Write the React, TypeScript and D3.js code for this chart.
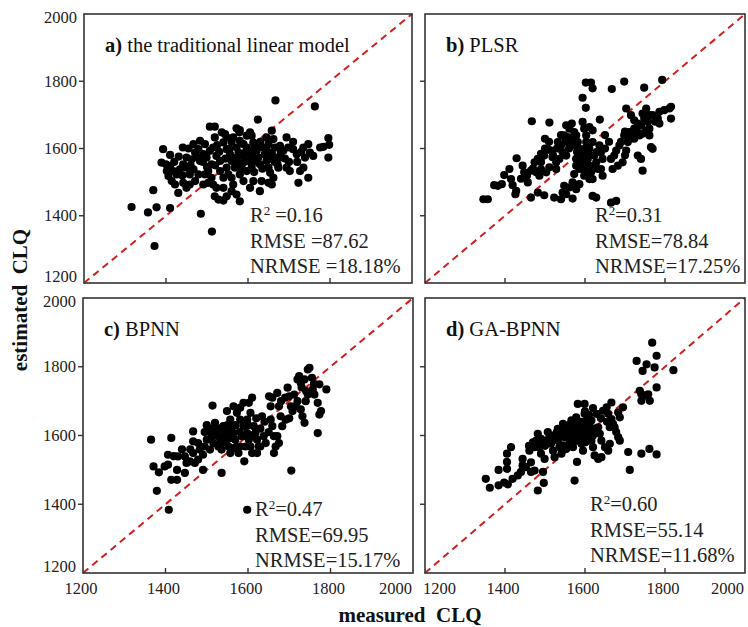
import React from "react";
import * as d3 from "d3";

const ticks = [1200, 1400, 1600, 1800, 2000];
const domain: [number, number] = [1200, 2000];

const titlesLetter = ["a)", "b)", "c)", "d)"];
const titlesText = ["the traditional linear model", "PLSR", "BPNN", "GA-BPNN"];
const statR2 = ["=0.16", "=0.31", "=0.47", "=0.60"];
const statR2Sep = [" ", "", "", ""];
const statRMSE = ["RMSE =87.62", "RMSE=78.84", "RMSE=69.95", "RMSE=55.14"];
const statNRMSE = ["NRMSE =18.18%", "NRMSE=17.25%", "NRMSE=15.17%", "NRMSE=11.68%"];

const ptsA: [number, number][] = [[1316,1426],[1356,1410],[1377,1425],[1369,1476],[1372,1310],[1410,1423],[1485,1406],[1512,1353],[1667,1743],[1763,1725],[1624,1686],[1507,1665],[1519,1665],[1572,1660],[1580,1655],[1393,1598],[1410,1581],[1389,1558],[1400,1553],[1441,1603],[1431,1576],[1796,1631],[1798,1611],[1796,1573],[1776,1603],[1784,1605],[1759,1578],[1747,1613],[1751,1588],[1723,1498],[1747,1513],[1727,1533],[1735,1543],[1702,1533],[1694,1543],[1674,1543],[1678,1573],[1694,1633],[1698,1603],[1658,1653],[1662,1628],[1678,1608],[1686,1593],[1710,1598],[1719,1583],[1735,1603],[1739,1573],[1650,1498],[1658,1493],[1662,1513],[1629,1473],[1633,1503],[1605,1483],[1613,1503],[1580,1443],[1572,1463],[1560,1473],[1564,1493],[1540,1483],[1548,1458],[1519,1458],[1528,1448],[1540,1445],[1515,1493],[1523,1483],[1491,1493],[1503,1498],[1471,1503],[1479,1523],[1467,1538],[1450,1483],[1458,1493],[1442,1498],[1430,1468],[1422,1493],[1426,1523],[1402,1533],[1410,1548],[1418,1533],[1434,1538],[1442,1553],[1450,1573],[1463,1568],[1471,1588],[1467,1613],[1479,1598],[1491,1583],[1483,1563],[1499,1573],[1507,1593],[1511,1553],[1515,1603],[1523,1578],[1532,1563],[1519,1633],[1540,1618],[1548,1598],[1556,1583],[1560,1563],[1568,1543],[1564,1633],[1572,1603],[1577,1588],[1580,1623],[1589,1613],[1593,1573],[1597,1603],[1601,1583],[1605,1563],[1609,1543],[1609,1638],[1613,1618],[1621,1593],[1625,1573],[1629,1553],[1637,1603],[1641,1583],[1645,1563],[1650,1543],[1654,1528],[1658,1588],[1666,1603],[1670,1573],[1672,1553],[1483,1623],[1495,1613],[1548,1633],[1544,1643],[1536,1648],[1579,1648],[1597,1638],[1605,1648],[1645,1633],[1650,1613],[1548,1543],[1552,1523],[1560,1513],[1580,1523],[1589,1503],[1597,1533],[1495,1523],[1503,1533],[1511,1513],[1532,1533],[1540,1513],[1458,1523],[1450,1543],[1414,1503],[1406,1518],[1572,1573],[1585,1578],[1597,1563],[1613,1573],[1621,1563],[1605,1588],[1589,1558],[1609,1553],[1490,1560],[1500,1545],[1520,1550],[1530,1590],[1545,1570],[1555,1600],[1575,1555],[1585,1540],[1595,1590],[1615,1530],[1625,1610],[1635,1540],[1645,1595],[1655,1570],[1665,1560],[1680,1590],[1690,1570],[1700,1560],[1710,1620],[1720,1560],[1730,1590],[1460,1550],[1475,1575],[1440,1520],[1420,1560],[1455,1600],[1525,1610],[1560,1620],[1615,1600],[1630,1620]];

const ptsB: [number, number][] = [[1346,1449],[1357,1449],[1602,1796],[1615,1796],[1619,1779],[1698,1799],[1667,1777],[1748,1781],[1793,1804],[1594,1751],[1602,1721],[1467,1681],[1511,1677],[1637,1686],[1500,1629],[1429,1571],[1411,1539],[1398,1521],[1392,1494],[1382,1489],[1373,1491],[1415,1509],[1419,1491],[1428,1474],[1426,1464],[1444,1549],[1448,1529],[1457,1499],[1465,1534],[1478,1529],[1474,1559],[1482,1569],[1490,1584],[1498,1579],[1507,1599],[1515,1594],[1519,1574],[1528,1559],[1532,1619],[1540,1609],[1544,1589],[1553,1579],[1548,1639],[1557,1634],[1561,1619],[1569,1629],[1553,1669],[1561,1659],[1567,1674],[1573,1649],[1578,1639],[1582,1619],[1586,1599],[1594,1679],[1598,1659],[1603,1639],[1611,1664],[1619,1654],[1586,1579],[1590,1559],[1594,1539],[1598,1519],[1603,1589],[1607,1569],[1611,1549],[1615,1529],[1619,1509],[1623,1579],[1628,1559],[1632,1539],[1636,1609],[1640,1589],[1644,1569],[1578,1549],[1573,1524],[1569,1499],[1578,1479],[1586,1494],[1548,1489],[1561,1484],[1553,1464],[1523,1454],[1540,1449],[1544,1469],[1569,1451],[1498,1461],[1482,1469],[1465,1454],[1619,1459],[1628,1454],[1665,1439],[1678,1444],[1665,1569],[1673,1579],[1678,1594],[1686,1609],[1669,1539],[1682,1549],[1694,1559],[1703,1594],[1707,1619],[1713,1629],[1698,1639],[1711,1649],[1719,1644],[1723,1659],[1732,1674],[1740,1669],[1748,1689],[1723,1629],[1736,1639],[1744,1644],[1753,1654],[1757,1679],[1761,1659],[1769,1699],[1782,1689],[1786,1674],[1786,1709],[1798,1714],[1811,1719],[1815,1724],[1815,1689],[1753,1719],[1744,1704],[1703,1719],[1715,1699],[1723,1684],[1761,1639],[1765,1604],[1769,1599],[1732,1579],[1740,1569],[1744,1534],[1640,1539],[1644,1519],[1611,1509],[1490,1539],[1503,1529],[1511,1544],[1486,1519],[1536,1569],[1528,1539],[1586,1539],[1578,1569],[1603,1619],[1611,1599],[1619,1619],[1560,1600],[1570,1610],[1580,1590],[1590,1580],[1600,1600],[1610,1580],[1595,1560],[1605,1540],[1620,1540],[1630,1590],[1550,1620],[1540,1640],[1530,1600],[1520,1580],[1510,1620],[1500,1600],[1490,1560],[1470,1540],[1455,1520],[1440,1510],[1650,1600],[1690,1620],[1700,1650],[1730,1650],[1760,1700],[1775,1680],[1700,1580],[1660,1620],[1650,1640]];

const ptsC: [number, number][] = [[1365,1588],[1371,1510],[1379,1439],[1384,1493],[1398,1510],[1406,1515],[1406,1544],[1414,1593],[1408,1384],[1414,1471],[1428,1471],[1428,1500],[1430,1539],[1447,1491],[1451,1520],[1447,1539],[1459,1525],[1467,1549],[1471,1520],[1479,1530],[1483,1559],[1491,1544],[1467,1583],[1479,1578],[1467,1612],[1491,1500],[1514,1687],[1500,1588],[1495,1568],[1503,1612],[1512,1598],[1516,1578],[1520,1637],[1524,1617],[1528,1598],[1532,1578],[1536,1491],[1540,1627],[1545,1607],[1549,1588],[1553,1568],[1549,1671],[1557,1646],[1561,1627],[1565,1685],[1573,1666],[1581,1681],[1589,1695],[1565,1607],[1569,1588],[1573,1568],[1577,1549],[1581,1646],[1589,1627],[1598,1646],[1606,1666],[1598,1607],[1602,1588],[1606,1568],[1610,1549],[1591,1525],[1610,1710],[1602,1695],[1614,1627],[1618,1607],[1622,1588],[1626,1568],[1622,1549],[1630,1568],[1634,1656],[1638,1598],[1643,1578],[1655,1685],[1651,1714],[1659,1710],[1671,1724],[1655,1646],[1659,1627],[1663,1598],[1667,1568],[1663,1549],[1675,1685],[1679,1656],[1683,1627],[1691,1646],[1671,1598],[1675,1578],[1696,1739],[1700,1714],[1704,1685],[1708,1671],[1705,1498],[1712,1719],[1720,1763],[1724,1773],[1728,1753],[1716,1685],[1728,1676],[1732,1656],[1741,1729],[1745,1719],[1753,1724],[1757,1734],[1761,1719],[1737,1763],[1745,1792],[1749,1797],[1755,1768],[1737,1637],[1769,1695],[1773,1661],[1777,1671],[1769,1607],[1773,1749],[1790,1734],[1557,1549],[1565,1563],[1536,1559],[1528,1568],[1508,1559],[1598,1384],[1585,1598],[1594,1568],[1581,1568],[1557,1593],[1549,1612],[1520,1600],[1530,1620],[1540,1600],[1550,1630],[1560,1610],[1570,1630],[1580,1610],[1590,1600],[1600,1630],[1610,1600],[1620,1650],[1630,1620],[1640,1640],[1650,1610],[1540,1580],[1510,1620],[1500,1630],[1495,1610],[1460,1560],[1440,1560],[1420,1540],[1680,1700],[1690,1710],[1700,1650],[1720,1700],[1740,1700],[1760,1750],[1730,1740]];

const ptsD: [number, number][] = [[1352,1474],[1362,1448],[1384,1500],[1384,1455],[1398,1463],[1407,1458],[1405,1547],[1415,1566],[1405,1523],[1405,1503],[1419,1474],[1432,1484],[1440,1494],[1444,1532],[1452,1508],[1465,1522],[1465,1494],[1474,1498],[1482,1440],[1495,1494],[1497,1462],[1486,1566],[1490,1547],[1499,1532],[1495,1576],[1503,1585],[1511,1595],[1515,1576],[1520,1556],[1524,1537],[1528,1605],[1532,1585],[1536,1566],[1541,1547],[1541,1610],[1549,1595],[1553,1624],[1562,1610],[1545,1571],[1553,1561],[1562,1580],[1570,1566],[1574,1469],[1580,1523],[1574,1634],[1578,1653],[1582,1624],[1587,1605],[1582,1692],[1599,1692],[1578,1585],[1591,1576],[1595,1556],[1599,1663],[1603,1644],[1608,1624],[1612,1605],[1616,1585],[1620,1566],[1616,1644],[1624,1542],[1633,1532],[1641,1537],[1629,1663],[1633,1624],[1637,1605],[1641,1585],[1645,1672],[1654,1682],[1658,1663],[1666,1696],[1650,1566],[1658,1556],[1662,1576],[1666,1648],[1670,1634],[1662,1624],[1683,1595],[1687,1585],[1687,1653],[1695,1682],[1708,1552],[1712,1500],[1729,1817],[1741,1547],[1761,1561],[1779,1545],[1737,1730],[1741,1720],[1749,1716],[1758,1720],[1741,1701],[1762,1701],[1744,1788],[1754,1807],[1774,1798],[1779,1832],[1779,1740],[1768,1870],[1821,1790],[1478,1585],[1482,1605],[1474,1566],[1507,1610],[1515,1600],[1524,1595],[1532,1619],[1545,1634],[1557,1619],[1566,1644],[1608,1585],[1599,1600],[1461,1556],[1444,1513],[1683,1667],[1674,1624],[1678,1610],[1570,1600],[1590,1610],[1600,1620],[1560,1590],[1580,1600],[1620,1620],[1550,1600],[1590,1640],[1530,1610],[1540,1600],[1550,1620],[1560,1630],[1570,1620],[1580,1640],[1590,1620],[1600,1640],[1610,1630],[1620,1600],[1625,1620],[1600,1580],[1590,1590],[1575,1610],[1560,1600],[1520,1590],[1510,1580],[1500,1570],[1490,1590],[1470,1580],[1460,1570],[1620,1680],[1640,1650],[1655,1640],[1610,1660],[1600,1670]];

const allPts = [ptsA, ptsB, ptsC, ptsD];

type Frame = { l: number; r: number; t: number; b: number; leftCol: boolean; bottomRow: boolean; statX: number; statY: number };
const frames: Frame[] = [
  { l: 84, r: 412, t: 14, b: 283, leftCol: true, bottomRow: false, statX: 250, statY: 222 },
  { l: 425, r: 745, t: 14, b: 283, leftCol: false, bottomRow: false, statX: 595, statY: 222 },
  { l: 83, r: 413, t: 298, b: 573, leftCol: true, bottomRow: true, statX: 255, statY: 516 },
  { l: 425, r: 745, t: 298, b: 573, leftCol: false, bottomRow: true, statX: 590, statY: 511 },
];

const FONT = "Liberation Serif";

function Panel({ i }: { i: number }) {
  const f = frames[i];
  const x = d3.scaleLinear().domain(domain).range([f.l, f.r]);
  const y = d3.scaleLinear().domain(domain).range([f.b, f.t]);
  const pts = allPts[i];
  const line = d3.line<number>().x((v) => x(v)).y((v) => y(v));
  const lineH = 25.5;
  return (
    <g>
      <path d={line(domain) || ""} stroke="#d11f1f" strokeWidth={2} strokeDasharray="7,5" fill="none" />
      {pts.map((p, k) => (
        <circle key={k} cx={x(p[0])} cy={y(p[1])} r={4.1} fill="#000" />
      ))}
      <rect x={f.l} y={f.t} width={f.r - f.l} height={f.b - f.t} fill="none" stroke="#333" strokeWidth={1.6} />
      {ticks.slice(1, -1).map((t) => (
        <line key={"xt" + t} x1={x(t)} x2={x(t)} y1={f.b} y2={f.b - 5} stroke="#333" strokeWidth={1.4} />
      ))}
      {ticks.slice(1, -1).map((t) => (
        <line key={"yt" + t} x1={f.l - 5} x2={f.l} y1={y(t)} y2={y(t)} stroke="#333" strokeWidth={1.4} />
      ))}
      {f.leftCol &&
        ticks.map((t, k) => (
          <text key={"yl" + t} x={f.l - 7} y={y(t)} dy={k === 0 ? -1 : k === ticks.length - 1 ? 9 : 5.5}
            textAnchor="end" fontSize={16.5} fontFamily={FONT} fill="#222">{t}</text>
        ))}
      {f.bottomRow &&
        ticks.map((t, k) => (
          <text key={"xl" + t} x={k === ticks.length - 1 ? f.r - 1 : k === 0 && !f.leftCol ? f.l - 2 : x(t) - 2}
            y={f.b + 21}
            textAnchor={k === ticks.length - 1 ? "end" : k === 0 && !f.leftCol ? "start" : "middle"}
            fontSize={16.5} fontFamily={FONT} fill="#222">{t}</text>
        ))}
      <text x={f.l + 21} y={f.t + 38} fontSize={20.5} fontFamily={FONT} fill="#111">
        <tspan fontWeight="bold">{titlesLetter[i]}</tspan>
        <tspan> {titlesText[i]}</tspan>
      </text>
      <text x={f.statX} y={f.statY} fontSize={20.5} fontFamily={FONT} fill="#222">
        R<tspan fontSize={13} dy={-7}>2</tspan><tspan dy={7}>{statR2Sep[i] + statR2[i]}</tspan>
      </text>
      <text x={f.statX} y={f.statY + lineH} fontSize={20.5} fontFamily={FONT} fill="#222">{statRMSE[i]}</text>
      <text x={f.statX} y={f.statY + 2 * lineH} fontSize={20.5} fontFamily={FONT} fill="#222">{statNRMSE[i]}</text>
    </g>
  );
}

export default function App() {
  return (
    <svg width={748} height={627} style={{ position: "absolute", left: 0, top: 0, background: "#fff" }}>
      <rect width={748} height={627} fill="#fff" />
      {frames.map((_, i) => (
        <Panel key={i} i={i} />
      ))}
      <text transform="translate(27,300) rotate(-90)" textAnchor="middle" fontSize={21} fontWeight="bold" fontFamily={FONT} fill="#111" xmlSpace="preserve">estimated  CLQ</text>
      <text x={410} y={622} textAnchor="middle" fontSize={21} fontWeight="bold" fontFamily={FONT} fill="#111" xmlSpace="preserve">measured  CLQ</text>
    </svg>
  );
}
